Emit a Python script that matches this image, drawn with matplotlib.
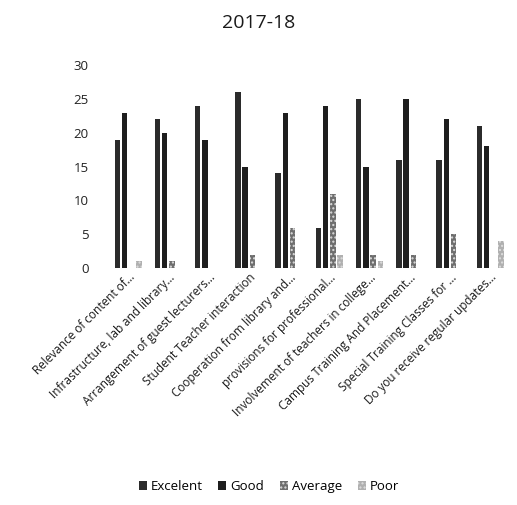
import matplotlib
matplotlib.use("Agg")
import matplotlib.pyplot as plt
import numpy as np

plt.rcParams['font.family'] = ['Open Sans', 'DejaVu Sans']

categories = ["Relevance of content of…",
              "Infrastructure, lab and library…",
              "Arrangement of guest lecturers…",
              "Student Teacher interaction",
              "Cooperation from library and…",
              "provisions for professional…",
              "Involvement of teachers in college…",
              "Campus Training And Placement…",
              "Special Training Classes for …",
              "Do you receive regular updates…"]

excelent = [19, 22, 24, 26, 14, 6, 25, 16, 16, 21]
good = [23, 20, 19, 15, 23, 24, 15, 25, 22, 18]
average = [0, 1, 0, 2, 6, 11, 2, 2, 5, 0]
poor = [1, 0, 0, 0, 0, 2, 1, 0, 0, 4]

series = [("Excelent", excelent, "#2b2b2b", None),
          ("Good", good, "#1e1e1e", None),
          ("Average", average, "#6e6e6e", "...."),
          ("Poor", poor, "#b0b0b0", "....")]

fig = plt.figure(figsize=(5.17, 5.05), dpi=100)
ax = fig.add_axes([0.209, 0.469, 0.778, 0.402])

x = np.arange(len(categories))
w = 0.18
for i, (name, vals, col, hatch) in enumerate(series):
    ax.bar(x + (i - 1.5) * w, vals, w * 0.75, color=col, label=name,
           hatch=hatch, edgecolor="#dddddd" if hatch else col, linewidth=0)

ax.set_ylim(0, 30)
ax.set_xlim(-0.5, len(categories) - 0.5)
ax.set_yticks(range(0, 31, 5))
ax.tick_params(axis="y", length=0, labelsize=9.5, colors="#222222", pad=14)
ax.tick_params(axis="x", length=0, labelsize=8.5, colors="#1a1a1a", pad=2)
ax.set_xticks(x)
ax.set_xticklabels(categories, rotation=45, ha="right", rotation_mode="anchor")
for s in ax.spines.values():
    s.set_visible(False)

fig.suptitle("2017-18", y=0.972, fontsize=14, color="#1a1a1a")

handles, labels = ax.get_legend_handles_labels()
fig.legend(handles, labels, loc="center", bbox_to_anchor=(0.52, 0.036), ncol=4,
           frameon=False, fontsize=9.5, handlelength=0.6, handleheight=0.6,
           handletextpad=0.3, columnspacing=1.2)

fig.savefig("out.png", dpi=100)
